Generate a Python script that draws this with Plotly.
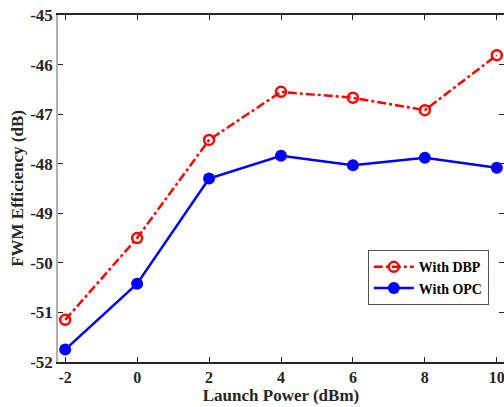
import plotly.graph_objects as go

launch_power = [-2, 0, 2, 4, 6, 8, 10]
dbp_eff = [-51.15, -49.50, -47.52, -46.55, -46.67, -46.92, -45.81]
opc_eff = [-51.75, -50.42, -48.30, -47.84, -48.03, -47.88, -48.08]
x_ticks = [-2, 0, 2, 4, 6, 8, 10]
y_ticks = [-52, -51, -50, -49, -48, -47, -46, -45]

font_family = "Liberation Serif"

fig = go.Figure()
fig.add_trace(go.Scatter(
    x=launch_power, y=dbp_eff, mode="lines+markers", name="<b>With DBP</b>",
    line=dict(color="#ff0000", width=2.5, dash="dashdot"),
    marker=dict(symbol="circle-open", size=10, color="#ff0000", line=dict(width=2.5, color="#ff0000")),
))
fig.add_trace(go.Scatter(
    x=launch_power, y=opc_eff, mode="lines+markers", name="<b>With OPC</b>",
    line=dict(color="#0000ff", width=2.5),
    marker=dict(symbol="circle", size=12, color="#0000ff"),
))

fig.update_layout(
    width=504, height=407,
    margin=dict(l=58, r=0, t=15, b=45, autoexpand=False),
    paper_bgcolor="white", plot_bgcolor="white",
    font=dict(family=font_family, size=17, color="#262626"),
    xaxis=dict(
        range=[-2.2, 10.2], tickvals=x_ticks,
        ticktext=[f"<b>{v}</b>" for v in x_ticks],
        ticks="inside", ticklen=5, tickcolor="#262626",
        showline=True, linecolor="#262626", linewidth=1.5, mirror="ticks",
        showgrid=False, zeroline=False, automargin=False,
        ticklabeloverflow="allow",
        tickfont=dict(size=16),
        title=dict(text="<b>Launch Power (dBm)</b>", font=dict(size=17), standoff=4),
    ),
    yaxis=dict(
        range=[-52, -45], tickvals=y_ticks,
        ticktext=[f"<b>{v}</b>" for v in y_ticks],
        ticks="inside", ticklen=5, tickcolor="#262626",
        showline=True, linecolor="#b0b0b0", linewidth=1.5, mirror="ticks",
        showgrid=False, zeroline=False, automargin=False,
        tickfont=dict(size=17),
        title=dict(text="<b>FWM Efficiency (dB)</b>", font=dict(size=17), standoff=2),
    ),
    legend=dict(
        x=0.966, y=0.322, xanchor="right", yanchor="top",
        bgcolor="white", bordercolor="#505050", borderwidth=1,
        font=dict(size=14, color="#000000"),
        tracegroupgap=0, itemwidth=40,
    ),
    showlegend=True,
)

fig.write_html(
    "out.html",
    config={"displayModeBar": False},
    post_script="document.body.style.margin='0';document.body.style.padding='0';document.body.style.overflow='hidden';",
)
